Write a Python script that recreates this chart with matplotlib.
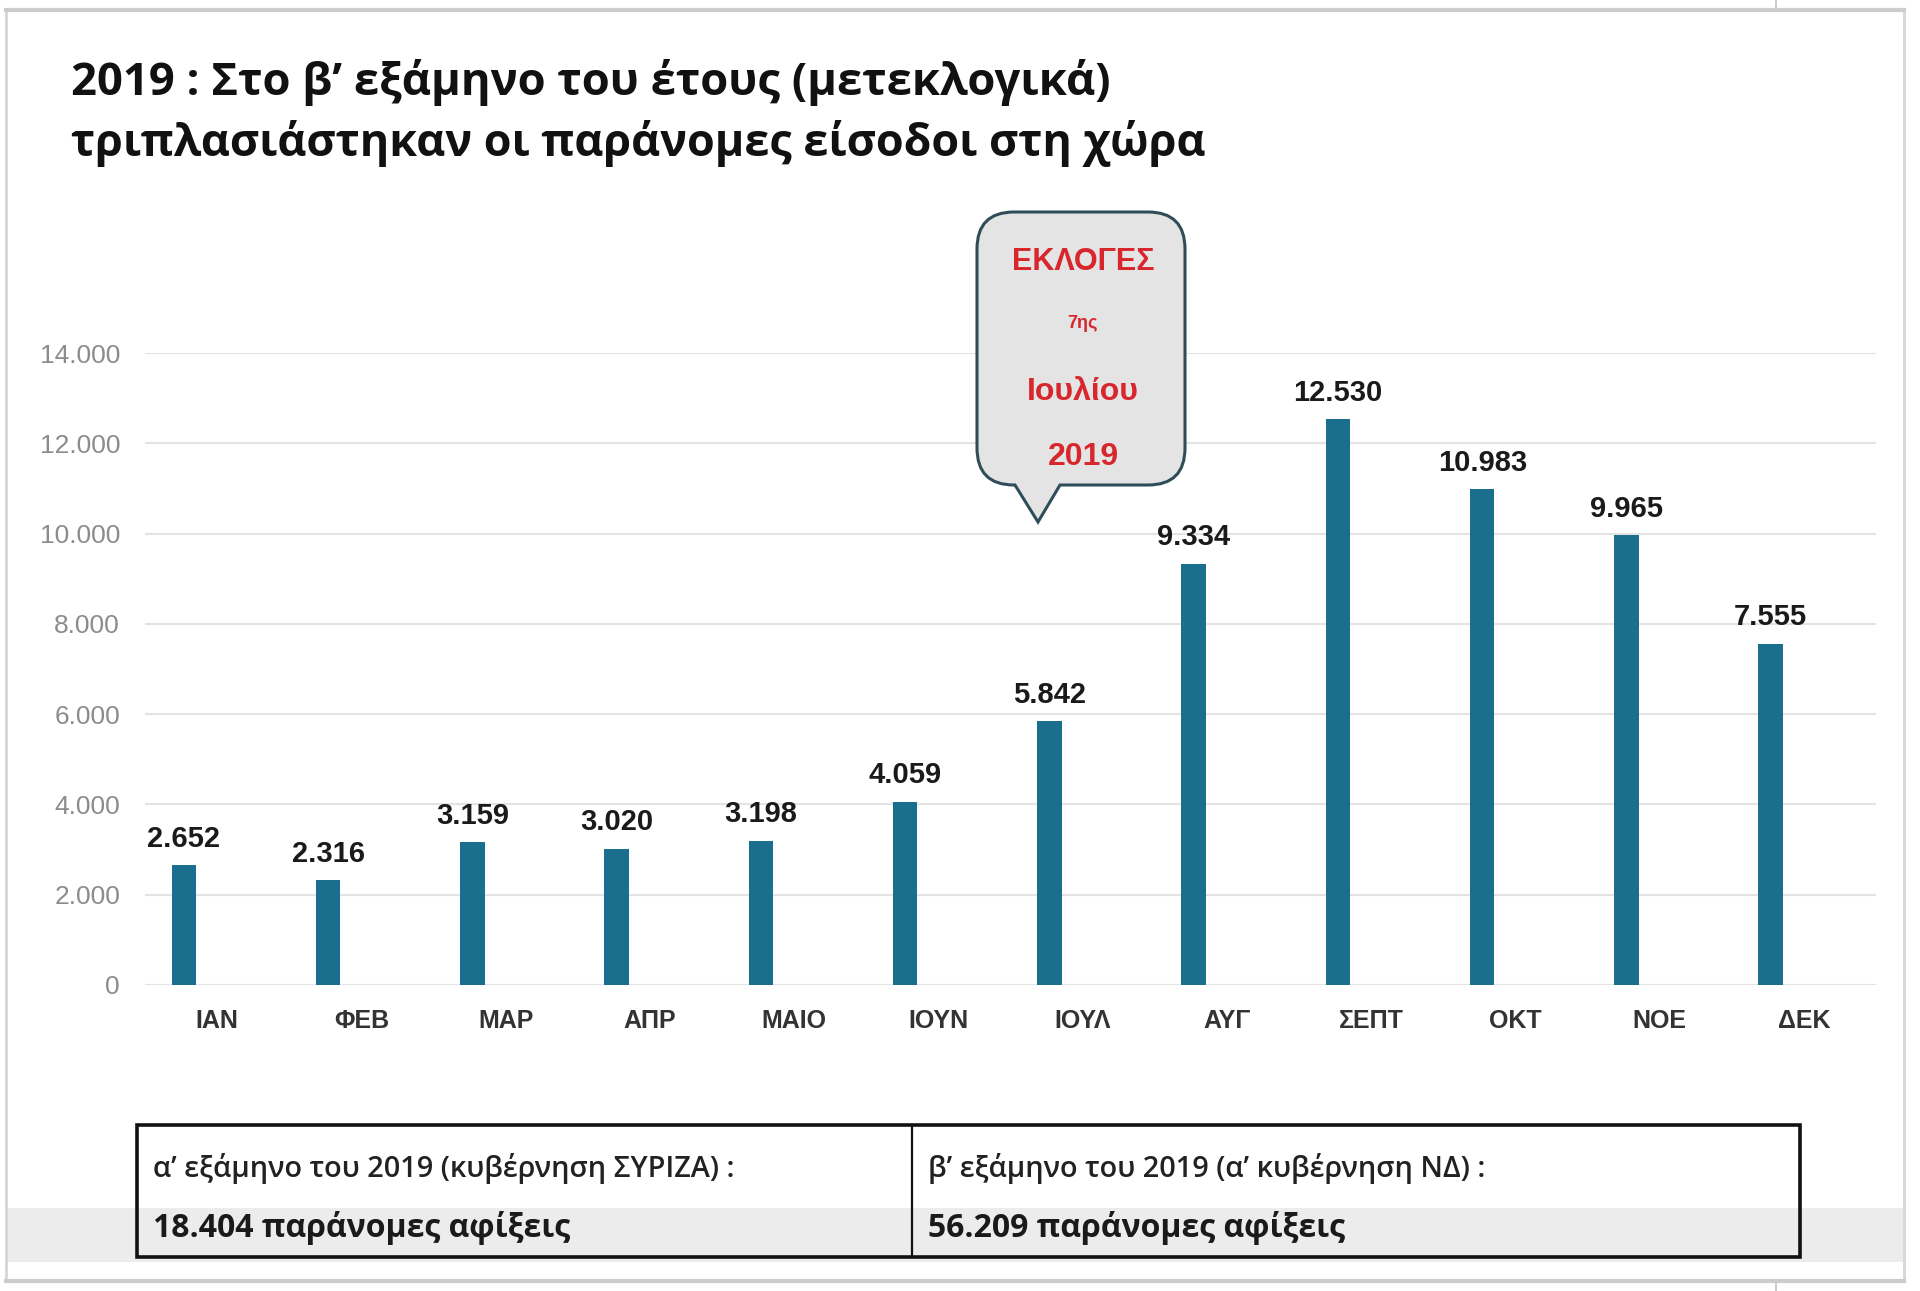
import numpy as np
import matplotlib
matplotlib.use("Agg")
import matplotlib.pyplot as plt
from matplotlib.path import Path
from matplotlib.patches import PathPatch, Rectangle

# monthly illegal entries 2019
months = ['ΙΑΝ', 'ΦΕΒ', 'ΜΑΡ', 'ΑΠΡ', 'ΜΑΙΟ', 'ΙΟΥΝ', 'ΙΟΥΛ', 'ΑΥΓ', 'ΣΕΠΤ', 'ΟΚΤ', 'ΝΟΕ', 'ΔΕΚ']
arrivals = [2652, 2316, 3159, 3020, 3198, 4059, 5842, 9334, 12530, 10983, 9965, 7555]
yticks = [0, 2000, 4000, 6000, 8000, 10000, 12000, 14000]

title_lines = ['2019 : Στο β’ εξάμηνο του έτους (μετεκλογικά)',
               'τριπλασιάστηκαν οι παράνομες είσοδοι στη χώρα']
callout_lines = ['ΕΚΛΟΓΕΣ', '7ης', 'Ιουλίου', '2019']
table_head = ['α’ εξάμηνο του 2019 (κυβέρνηση ΣΥΡΙΖΑ) :', 'β’ εξάμηνο του 2019 (α’ κυβέρνηση ΝΔ) :']
table_vals = ['18.404 παράνομες αφίξεις', '56.209 παράνομες αφίξεις']

W, H = 1920, 1291
bar_col = '#1a6e8e'
red = '#d7262c'
num_font = 'Liberation Sans'
txt_font = 'Open Sans'


def dotted(v):
    return '{:,}'.format(v).replace(',', '.')


fig = plt.figure(figsize=(W / 100, H / 100), dpi=100)
fig.patch.set_facecolor('white')

# main chart, positioned in pixels
left, right, top, bottom = 145, 1876, 353, 985
ax = fig.add_axes([left / W, 1 - bottom / H, (right - left) / W, (bottom - top) / H])
ax.set_facecolor('none')
x = np.arange(len(months))
bx = x - 0.23
ax.bar(bx, arrivals, width=0.17, color=bar_col, zorder=3)
for xi, v in zip(bx, arrivals):
    ax.annotate(dotted(v), (xi, v), xytext=(0, 9), textcoords='offset points',
                ha='center', va='bottom', fontsize=21, fontweight='bold',
                family=num_font, color='#1a1a1a')
ax.set_xlim(-0.5, len(months) - 0.5)
ax.set_ylim(0, 14000)
ax.set_yticks(yticks)
ax.set_yticklabels([dotted(t) for t in yticks], family=num_font, fontsize=19, color='#8c8c8c')
ax.set_xticks(x)
ax.set_xticklabels(months, family=num_font, fontsize=18, fontweight='bold', color='#333333')
ax.tick_params(axis='both', length=0)
ax.tick_params(axis='y', pad=18)
ax.tick_params(axis='x', pad=17)
ax.grid(axis='y', color='#e3e3e3', linewidth=1.5, zorder=0)
for s in ax.spines.values():
    s.set_visible(False)

# overlay in pixel coords for title, callout, table and frame
ov = fig.add_axes([0, 0, 1, 1], zorder=5)
ov.set_xlim(0, W)
ov.set_ylim(H, 0)
ov.axis('off')
ov.patch.set_alpha(0)

# screenshot frame
ov.plot([6, 6], [10, 1281], color='#d5d5d5', lw=2)
ov.plot([1904, 1904], [10, 1281], color='#d5d5d5', lw=2)
ov.plot([6, 1904], [10, 10], color='#cccccc', lw=3)
ov.plot([6, 1904], [1281, 1281], color='#cccccc', lw=3)
ov.plot([1776, 1776], [0, 10], color='#cccccc', lw=1.5)
ov.plot([1776, 1776], [1281, 1291], color='#cccccc', lw=1.5)
ov.add_patch(Rectangle((7, 1208), 1896, 54, facecolor='#ececec', edgecolor='none', zorder=0))

# title
ov.text(71, 95, title_lines[0], family=txt_font, fontsize=32.7, fontweight='bold',
        color='#111111', va='baseline')
ov.text(71, 156, title_lines[1], family=txt_font, fontsize=32.3, fontweight='bold',
        color='#111111', va='baseline')

# speech bubble
bl, br, bt, bb, r = 977, 1185, 212, 485, 37
tip = (1038, 522)
pl, pr = 1015, 1060
verts = [(bl + r, bt), (br - r, bt), (br, bt), (br, bt + r),
         (br, bb - r), (br, bb), (br - r, bb),
         (pr, bb), tip, (pl, bb),
         (bl + r, bb), (bl, bb), (bl, bb - r),
         (bl, bt + r), (bl, bt), (bl + r, bt)]
codes = [Path.MOVETO, Path.LINETO, Path.CURVE3, Path.CURVE3,
         Path.LINETO, Path.CURVE3, Path.CURVE3,
         Path.LINETO, Path.LINETO, Path.LINETO,
         Path.LINETO, Path.CURVE3, Path.CURVE3,
         Path.LINETO, Path.CURVE3, Path.CURVE3]
ov.add_patch(PathPatch(Path(verts, codes), facecolor='#e4e4e4', edgecolor='#2f4d58', lw=2.2))
cy = [262, 323, 392, 457]
cs = [22, 13, 23, 23]
for t, yy, fs in zip(callout_lines, cy, cs):
    ov.text(1083, yy, t, family=num_font, fontsize=fs, fontweight='bold', color=red,
            ha='center', va='center')

# summary table
tl, tr, tt, tb, tm = 137, 1800, 1125, 1257, 912
ov.add_patch(Rectangle((tl, tt), tr - tl, tb - tt, facecolor='none', edgecolor='#111111', lw=2.6))
ov.plot([tm, tm], [tt, tb], color='#111111', lw=1.6)
for xx, h, v in zip([153, 928], table_head, table_vals):
    ov.text(xx, 1169, h, family=txt_font, fontsize=20.8, fontweight='semibold', color='#222222', va='center')
    ov.text(xx, 1228, v, family=txt_font, fontsize=23, fontweight='bold', color='#1a1a1a', va='center')

fig.savefig('out.png', dpi=100, facecolor='white')
